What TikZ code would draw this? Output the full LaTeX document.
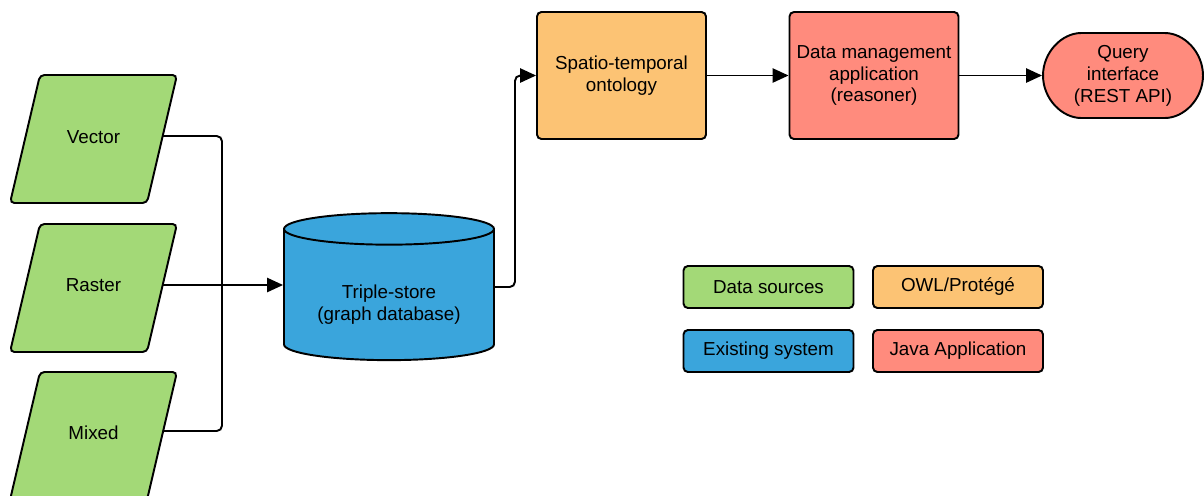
\documentclass[tikz,border=0pt]{standalone}
\usepackage{fontspec}
\setmainfont{Liberation Sans}
\usepackage{xcolor}
\usetikzlibrary{shapes.geometric,shapes.misc,arrows.meta}
\definecolor{srcgreen}{HTML}{A3D977}
\definecolor{owlorange}{HTML}{FCC374}
\definecolor{javared}{HTML}{FF8B7D}
\definecolor{sysblue}{HTML}{3AA5DC}

\begin{document}
\begin{tikzpicture}[x=0.02cm,y=-0.02cm,font=\fontsize{10.7}{12.5}\selectfont]
	\tikzstyle{outline} = [draw=black, line width=1.1pt, align=center, inner sep=0pt]
	\tikzstyle{box} = [outline, rounded corners=2.5pt]
	\tikzstyle{source} = [draw=black, line width=1.1pt, rounded corners=2.5pt, fill=srcgreen]
	\tikzstyle{db} = [outline, cylinder, shape border rotate=90, aspect=0.22, fill=sysblue, minimum width=4.2cm, minimum height=2.94cm]
	\tikzstyle{process} = [box, minimum width=3.38cm, minimum height=2.54cm]
	\tikzstyle{legend} = [box, minimum width=3.4cm, minimum height=0.84cm]
	\tikzstyle{edge} = [draw=black, line width=1.1pt, rounded corners=3pt]
	\tikzstyle{arrow} = [edge, -{Triangle[length=9pt,width=8pt]}]
	\useasboundingbox (0,0) rectangle (1204,495);
		% data sources
		\draw[source] (40,75) -- (177,75) -- (147,203) -- (10,203) -- cycle;
		\draw[source] (40,224) -- (177,224) -- (147,352) -- (10,352) -- cycle;
		\draw[source] (40,372) -- (177,372) -- (147,500) -- (10,500) -- cycle;
		\node[] (vector) at (93.5,137) {Vector};
		\node[] (raster) at (93.5,285) {Raster};
		\node[] (mixed)  at (93.5,433) {Mixed};
		\coordinate (vectorout) at (163,136);
		\coordinate (rasterout) at (163,285);
		\coordinate (mixedout)  at (163,431);
		\coordinate (bus) at (222,285);
		% main chain
		\node[db] (store) at (389,295) {\phantom{(graph database)}};
		\node[align=center] (storetext) at (389,305) {Triple-store\\(graph database)};
		\coordinate (storeout) at (494,287);
		\node[process, fill=owlorange] (onto)   at (621.5,75.5) {Spatio-temporal\\ontology};
		\node[process, fill=javared]   (manage) at (874,75.5) {Data management\\application\\(reasoner)};
		\node[box, rounded rectangle, fill=javared, minimum width=3.2cm, minimum height=1.7cm] (query) at (1123,75.5) {Query\\interface\\(REST API)};
		% legend
		\node[legend, fill=srcgreen]  (lgsrc)  at (768.5,287) {Data sources};
		\node[legend, fill=owlorange] (lgowl)  at (958,287)   {OWL/Prot\'eg\'e};
		\node[legend, fill=sysblue]   (lgsys)  at (768.5,351) {Existing system};
		\node[legend, fill=javared]   (lgjava) at (958,351)   {Java Application};
	\draw[edge] (vectorout) -| (bus);
	\draw[edge] (mixedout) -| (bus);
	\draw[arrow] (rasterout) -- (rasterout -| store.west);
	\draw[arrow] (storeout) -- ++(21,0) |- (onto.west);
	\draw[arrow] (onto) -- (manage);
	\draw[arrow] (manage) -- (query);
\end{tikzpicture}
\end{document}
